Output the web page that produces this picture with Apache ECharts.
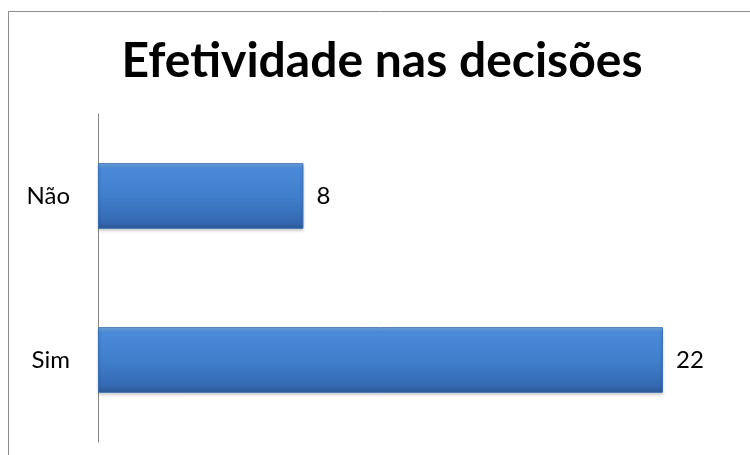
<!DOCTYPE html>
<html><head><meta charset="utf-8">
<script src="https://cdn.jsdelivr.net/npm/echarts@6/dist/echarts.min.js"></script>
<style>html,body{margin:0;padding:0;background:#fff}#c{width:750px;height:455px}</style>
</head><body><div id="c"></div>
<script>
const titleText = 'Efetividade nas decisões';
const categories = ['Sim', 'Não'];
const values = [22, 8];

const chart = echarts.init(document.getElementById('c'));
chart.setOption({
  backgroundColor: '#fff',
  animation: false,
  title: {
    text: titleText, left: 377, top: 33, textAlign: 'center',
    textStyle: { fontFamily: 'Lato', fontWeight: 'bold', fontSize: 48, color: '#000' }
  },
  graphic: [{
    type: 'rect', shape: { x: 8.5, y: 11.5, width: 800, height: 500 },
    style: { fill: 'none', stroke: '#8c8c8c', lineWidth: 1 }, silent: true
  }],
  grid: { left: 98, right: 10, top: 114, bottom: 13 },
  xAxis: {
    type: 'value', min: 0, max: 25, show: false
  },
  yAxis: {
    type: 'category', data: categories,
    axisLine: { show: true, lineStyle: { color: '#868686', width: 1 } },
    axisTick: { show: false },
    axisLabel: { fontFamily: 'Lato', fontSize: 24, color: '#000', margin: 28 }
  },
  series: [{
    type: 'bar', data: values, barCategoryGap: '60%',
    itemStyle: {
      color: new echarts.graphic.LinearGradient(0, 0, 0, 1, [
        { offset: 0, color: '#79b1ea' },
        { offset: 0.08, color: '#4a8ad8' },
        { offset: 0.5, color: '#3f7fcc' },
        { offset: 0.9, color: '#3569b2' },
        { offset: 1, color: '#2a5590' }
      ]),
      borderColor: '#3a6eb5', borderWidth: 1,
      shadowColor: 'rgba(0,0,0,0.25)', shadowBlur: 3, shadowOffsetY: 2
    },
    label: { show: true, position: 'right', distance: 13, fontFamily: 'Lato', fontSize: 24, color: '#000' }
  }]
});
</script></body></html>
